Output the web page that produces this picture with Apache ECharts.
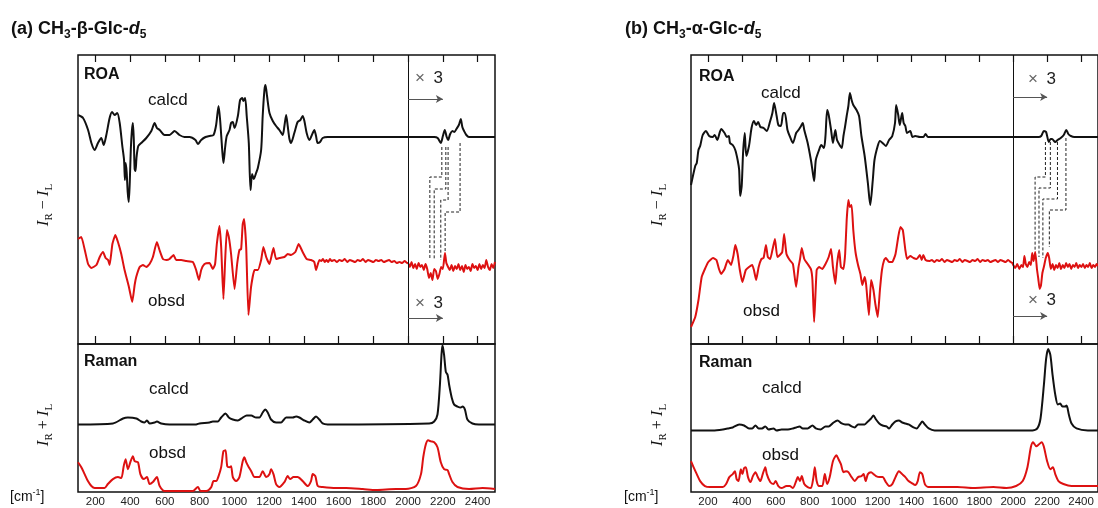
<!DOCTYPE html>
<html><head><meta charset="utf-8">
<script src="https://cdn.jsdelivr.net/npm/echarts@6/dist/echarts.min.js"></script>
<style>html,body{margin:0;padding:0;background:#fff}#c{width:1098px;height:508px}</style>
</head><body><div id="c"></div>
<script>
// ---------- axis data ----------
const xTicks = [200,400,600,800,1000,1200,1400,1600,1800,2000,2200,2400];
const xRange = [100, 2500];
const scaleBreak = 2000;           // right of this the ROA traces are shown x3
const roaRange = [0, 289];
const ramanRange = [0, 149];

// ---------- (a) CH3-beta-Glc-d5 ----------
const roaCalcdA = [[100,22],[129,19],[158,7],[177,-6],[196,-13],[215,-6],[234,-1],[248,-8],[263,2],[282,19],[296,25],[311,22],[326,24],[340,14],[355,-9],[365,-23],[370,-43],[374,-26],[380,-35],[386,-55],[392,-65],[398,-45],[404,-12],[410,6],[416,14],[421,-2],[426,-32],[431,-34],[437,-20],[447,-9],[464,-6],[493,-1],[522,6],[541,14],[554,9],[570,7],[598,2],[627,2],[656,6],[684,2],[713,0],[742,0],[776,-3],[790,-7],[809,-3],[834,0],[857,1],[880,2],[895,12],[909,31],[918,17],[930,-13],[937,-26],[947,-10],[956,1],[972,7],[981,14],[991,15],[1001,9],[1020,21],[1033,37],[1045,39],[1052,36],[1062,39],[1071,21],[1083,-6],[1093,-53],[1102,-37],[1112,-42],[1125,-36],[1135,-31],[1154,-13],[1163,21],[1173,47],[1179,52],[1188,41],[1202,24],[1221,16],[1240,11],[1259,7],[1278,2],[1288,11],[1298,22],[1307,11],[1317,-2],[1326,-6],[1345,4],[1364,15],[1380,17],[1393,21],[1403,16],[1416,4],[1432,-3],[1451,4],[1460,7],[1470,1],[1479,-6],[1493,-5],[1508,-1],[1537,0],[2150,0],[2170,-1],[2188,-6],[2200,1],[2211,7],[2222,0],[2230,-3],[2242,3],[2255,6],[2266,5],[2278,8],[2292,12],[2303,18],[2312,10],[2322,6],[2335,2],[2350,0],[2500,0]];
const roaObsdA = [[100,22],[119,24],[139,11],[158,-3],[177,-7],[206,-4],[225,4],[244,9],[259,3],[273,1],[282,-4],[298,17],[315,26],[330,19],[349,7],[368,-9],[393,-26],[412,-41],[426,-24],[435,-16],[455,-6],[474,-4],[493,-6],[512,-3],[531,4],[554,19],[569,11],[589,2],[608,1],[627,2],[650,6],[665,1],[694,1],[723,0],[761,-1],[780,-9],[796,-19],[809,-9],[828,-3],[857,-2],[876,-8],[889,-3],[899,17],[914,35],[924,14],[937,-38],[947,1],[957,31],[968,24],[981,7],[1001,-28],[1016,-3],[1029,11],[1039,12],[1048,37],[1056,42],[1068,14],[1081,-54],[1096,-26],[1116,-9],[1135,-9],[1154,1],[1167,14],[1183,4],[1202,-3],[1225,13],[1240,2],[1259,3],[1288,4],[1307,7],[1326,6],[1351,9],[1370,17],[1393,9],[1416,2],[1441,1],[1460,-1],[1470,-9],[1489,1],[1500,0],[1510,2],[1520,-1],[1530,1],[1540,-1],[1550,2],[1560,0],[1575,1],[1590,-1],[1605,1],[1620,0],[1635,2],[1650,-1],[1665,1],[1680,0],[1695,-1],[1710,1],[1725,0],[1740,2],[1755,-1],[1770,1],[1785,0],[1800,-1],[1815,1],[1830,0],[1845,1],[1860,-1],[1875,0],[1890,1],[1905,-1],[1920,0],[1935,-2],[1950,-1],[1965,-2],[1980,0],[1995,-2],[2000,-2],[2010,-6],[2020,-1],[2030,-7],[2040,-3],[2050,-8],[2060,-2],[2070,-6],[2080,-4],[2090,-9],[2100,-3],[2110,-8],[2120,-17],[2130,-12],[2140,-19],[2150,-8],[2160,-10],[2170,-18],[2180,-13],[2190,-6],[2200,-8],[2212,8],[2220,-2],[2230,-6],[2240,-9],[2250,-4],[2260,-10],[2270,-5],[2280,-8],[2290,-3],[2300,-9],[2310,-5],[2320,-11],[2330,-4],[2340,-8],[2350,-6],[2360,-10],[2370,-3],[2380,-7],[2390,-5],[2400,-9],[2410,-3],[2420,-8],[2430,-4],[2440,-7],[2450,1],[2460,-6],[2470,-9],[2480,-3],[2490,-7],[2500,-1]];
const ramanCalcdA = [[100,0],[301,1],[359,6],[387,7],[436,6],[464,3],[483,2],[497,4],[512,1],[541,2],[554,3],[579,1],[627,0],[723,0],[780,0],[799,1],[857,2],[876,3],[905,3],[924,7],[949,11],[968,7],[991,5],[1020,4],[1048,7],[1071,9],[1097,9],[1125,7],[1144,7],[1163,12],[1177,15],[1192,12],[1211,5],[1240,2],[1269,2],[1298,7],[1317,7],[1336,7],[1355,8],[1374,7],[1403,4],[1432,2],[1451,5],[1470,8],[1489,5],[1508,1],[1537,0],[2121,1],[2150,3],[2169,10],[2183,40],[2192,70],[2198,80],[2207,70],[2217,53],[2227,50],[2236,40],[2251,27],[2265,20],[2284,18],[2303,17],[2313,18],[2327,15],[2341,5],[2370,1],[2407,0],[2500,0]];
const ramanObsdA = [[100,30],[119,25],[138,18],[157,11],[177,6],[196,4],[225,4],[253,4],[272,8],[301,13],[330,15],[349,14],[363,26],[374,33],[387,23],[403,31],[416,36],[426,31],[445,30],[459,18],[478,13],[497,15],[512,8],[531,10],[554,15],[570,6],[598,1],[627,1],[684,1],[761,1],[790,5],[805,1],[838,1],[867,5],[880,11],[895,11],[909,16],[924,25],[937,41],[949,42],[959,26],[972,25],[981,26],[991,15],[1010,11],[1029,15],[1048,31],[1058,35],[1068,30],[1083,25],[1097,21],[1116,15],[1144,15],[1163,21],[1183,15],[1202,18],[1211,23],[1225,18],[1240,8],[1259,5],[1288,10],[1307,16],[1321,13],[1340,15],[1364,15],[1393,11],[1422,6],[1441,11],[1451,18],[1466,16],[1480,6],[1508,5],[1585,4],[1643,4],[1739,3],[1815,2],[1930,3],[1987,3],[2045,6],[2074,18],[2087,35],[2102,48],[2115,52],[2131,51],[2150,50],[2169,45],[2188,30],[2207,23],[2227,22],[2236,18],[2255,10],[2284,5],[2351,3],[2428,4],[2500,3]];
const connectorsA = [
  [[2194,197],[2194,167],[2125,167],[2125,84]],
  [[2217,197],[2217,155],[2150,155],[2150,84]],
  [[2230,197],[2230,144],[2188,144],[2188,84]],
  [[2299,201],[2299,132],[2213,132],[2213,92]]
];

// ---------- (b) CH3-alpha-Glc-d5 ----------
const roaCalcdB = [[100,-48],[125,-29],[134,-26],[144,-13],[154,-9],[169,2],[188,6],[207,1],[227,0],[240,2],[255,-3],[278,8],[298,4],[311,0],[323,1],[330,-6],[346,-8],[361,-13],[375,-23],[384,-33],[390,-59],[399,-49],[407,-16],[417,4],[426,-19],[442,-9],[457,9],[471,16],[484,12],[496,15],[509,10],[528,9],[547,6],[567,16],[580,24],[590,34],[605,21],[615,12],[630,11],[644,24],[653,24],[669,7],[682,1],[701,-6],[720,4],[734,7],[749,11],[759,14],[768,7],[788,-6],[807,-23],[816,-33],[826,-44],[836,-23],[855,-13],[868,-8],[884,-11],[893,1],[903,27],[912,22],[926,7],[937,-6],[951,7],[961,-3],[980,-9],[989,-11],[999,1],[1009,11],[1018,21],[1028,31],[1037,44],[1047,37],[1057,32],[1076,27],[1091,21],[1105,1],[1124,-19],[1143,-46],[1157,-68],[1172,-43],[1182,-23],[1201,-9],[1214,-4],[1230,-6],[1249,-9],[1268,-3],[1287,1],[1303,14],[1310,32],[1322,22],[1331,12],[1345,24],[1354,14],[1364,11],[1374,4],[1393,6],[1406,0],[1422,1],[1450,0],[1470,0],[1483,3],[1498,0],[2150,0],[2165,1],[2181,6],[2194,5],[2210,-5],[2220,-2],[2229,-2],[2248,-5],[2262,-3],[2280,-1],[2298,2],[2313,7],[2325,3],[2340,1],[2360,0],[2500,0]];
const roaObsdB = [[100,-66],[125,-56],[144,-39],[163,-16],[182,-8],[202,-1],[230,3],[250,1],[265,-8],[278,-13],[298,-8],[317,1],[336,-4],[350,5],[361,16],[375,7],[388,-9],[403,-21],[423,-9],[442,-6],[461,-4],[471,-9],[484,-19],[499,-6],[515,2],[528,3],[542,16],[553,4],[567,2],[580,11],[595,22],[609,4],[624,6],[638,9],[649,27],[663,7],[682,1],[701,-3],[720,-26],[734,-6],[743,2],[753,13],[768,2],[788,-3],[807,-8],[816,-19],[826,-61],[841,-9],[855,-6],[874,-8],[893,-3],[912,4],[926,12],[937,-6],[951,-23],[961,-3],[974,11],[984,-6],[999,-8],[1009,7],[1018,41],[1028,61],[1037,54],[1047,56],[1057,31],[1070,9],[1085,-4],[1099,-13],[1110,-24],[1124,-16],[1133,-24],[1149,-54],[1162,-19],[1176,-29],[1187,-43],[1201,-56],[1214,-29],[1226,-9],[1239,1],[1249,3],[1268,-1],[1287,-1],[1306,7],[1322,24],[1335,34],[1349,31],[1364,11],[1374,2],[1393,5],[1412,3],[1431,2],[1450,6],[1460,1],[1470,6],[1483,1],[1508,0],[1520,1],[1535,-1],[1550,1],[1565,0],[1580,2],[1595,-1],[1610,1],[1625,0],[1640,-1],[1655,1],[1670,0],[1685,2],[1700,-1],[1715,1],[1730,0],[1745,-1],[1760,1],[1775,0],[1790,2],[1805,-1],[1820,1],[1835,0],[1850,1],[1865,-1],[1880,0],[1895,1],[1910,-1],[1925,1],[1940,0],[1955,-1],[1970,1],[1985,-1],[1995,-2],[2000,-4],[2012,-7],[2024,-3],[2036,-8],[2048,-4],[2058,-6],[2066,5],[2074,-3],[2084,-6],[2094,-1],[2104,-4],[2112,8],[2120,0],[2130,9],[2140,-8],[2148,-18],[2156,-28],[2164,-24],[2172,-12],[2182,-5],[2192,3],[2204,8],[2212,3],[2222,-8],[2232,-3],[2242,-9],[2252,-4],[2262,-7],[2272,-2],[2282,-8],[2292,-4],[2302,-7],[2312,-2],[2322,-6],[2332,-3],[2342,-8],[2352,-4],[2362,-6],[2372,-2],[2382,-7],[2392,-4],[2402,-6],[2412,-3],[2422,-7],[2432,-4],[2442,-6],[2452,-2],[2462,-7],[2472,-4],[2482,-6],[2492,-3],[2500,-5]];
const ramanCalcdB = [[100,0],[230,0],[288,1],[317,2],[346,3],[384,6],[413,5],[442,2],[461,2],[480,5],[499,2],[519,2],[538,4],[557,1],[586,2],[605,0],[634,1],[672,1],[701,2],[720,3],[740,4],[759,2],[788,2],[816,5],[836,2],[864,1],[893,4],[912,4],[941,8],[964,10],[989,7],[1009,6],[1028,6],[1047,4],[1066,3],[1085,6],[1105,6],[1124,6],[1143,9],[1162,12],[1176,15],[1191,11],[1210,7],[1230,5],[1253,4],[1268,2],[1287,6],[1306,9],[1326,10],[1345,8],[1364,7],[1383,6],[1412,3],[1431,2],[1450,6],[1464,9],[1479,6],[1502,2],[1537,0],[2113,0],[2142,2],[2161,12],[2181,46],[2194,72],[2206,82],[2219,76],[2232,56],[2248,36],[2263,26],[2277,27],[2290,24],[2305,24],[2315,25],[2328,16],[2344,7],[2373,2],[2440,0],[2500,0]];
const ramanObsdB = [[100,31],[115,25],[134,18],[154,11],[182,6],[211,5],[250,5],[288,5],[307,8],[326,15],[346,18],[359,21],[369,13],[380,11],[394,23],[403,18],[413,24],[423,25],[436,15],[451,10],[465,16],[480,20],[494,15],[509,11],[523,18],[538,25],[547,18],[567,10],[586,8],[599,11],[615,6],[634,4],[663,6],[682,6],[701,4],[720,11],[730,15],[743,11],[753,16],[768,8],[788,5],[807,4],[822,15],[830,25],[841,11],[855,6],[874,6],[889,18],[903,8],[918,15],[937,31],[957,37],[970,33],[984,28],[999,20],[1014,21],[1028,20],[1047,15],[1066,11],[1085,15],[1105,16],[1118,18],[1130,11],[1143,18],[1162,20],[1176,18],[1191,16],[1210,15],[1230,15],[1249,10],[1268,6],[1287,8],[1306,15],[1326,21],[1345,18],[1364,15],[1383,11],[1402,9],[1422,7],[1437,11],[1450,20],[1464,18],[1479,8],[1498,5],[1575,5],[1671,5],[1767,4],[1883,5],[1960,4],[2017,6],[2056,11],[2084,25],[2104,45],[2117,50],[2136,46],[2152,48],[2167,50],[2180,46],[2200,31],[2219,23],[2234,25],[2248,18],[2267,11],[2296,8],[2344,6],[2440,6],[2500,6]];
const connectorsB = [
  [[2190,202],[2190,167],[2129,167],[2129,94]],
  [[2219,202],[2219,156],[2152,156],[2152,87]],
  [[2261,202],[2261,145],[2175,145],[2175,86]],
  [[2311,206],[2311,134],[2213,134],[2213,97]]
];

// ---------- layout (vertical stacking offsets of each trace) ----------
const OFF = { roaCalcd: 207, roaObsd: 83, ramanCalcdA: 68, ramanCalcdB: 62, ramanObsd: 0 };
const shift = (arr, off) => arr.map(p => [p[0], p[1] + off]);

const BLACK = '#111111', RED = '#dd1111';
const FONT = 'Liberation Sans, Arial, sans-serif';

const grids = [
  {left:78,  top:55,  width:417, height:289},
  {left:78,  top:344, width:417, height:149},
  {left:691, top:55,  width:416, height:289},
  {left:691, top:344, width:416, height:149}
].map(g => Object.assign(g, {show:true, borderColor:BLACK, borderWidth:1.5, backgroundColor:'transparent'}));

function xAx(gridIndex, position, tickLen, labels) {
  return {
    type:'value', gridIndex, position, min:xRange[0], max:xRange[1],
    axisLine:{show:false, onZero:false}, splitLine:{show:false},
    axisTick:{show: tickLen > 0, inside:true, length:tickLen, customValues:xTicks, lineStyle:{color:BLACK, width:1.2}},
    axisLabel:{show:labels, customValues:xTicks, formatter: v => String(v), fontFamily:FONT, fontSize:11.5, color:'#222', margin:4}
  };
}
const xAxis = [
  xAx(0,'top',7,false), xAx(0,'bottom',8,false), xAx(1,'bottom',0,true),
  xAx(2,'top',7,false), xAx(2,'bottom',8,false), xAx(3,'bottom',0,true)
];
const yAxis = [
  {type:'value', gridIndex:0, min:roaRange[0], max:roaRange[1], show:false},
  {type:'value', gridIndex:1, min:ramanRange[0], max:ramanRange[1], show:false},
  {type:'value', gridIndex:2, min:roaRange[0], max:roaRange[1], show:false},
  {type:'value', gridIndex:3, min:ramanRange[0], max:ramanRange[1], show:false}
];

function lineSeries(data, xi, yi, color, extra) {
  return Object.assign({
    type:'line', xAxisIndex:xi, yAxisIndex:yi, data, showSymbol:false, symbol:'none',
    smooth:0.25, lineStyle:{color, width:2}, silent:true, animation:false, z:3
  }, extra || {});
}
function breakLine() {
  return {silent:true, symbol:'none', label:{show:false}, lineStyle:{color:BLACK, width:1, type:'solid'},
          data:[{xAxis:scaleBreak}]};
}
function arrows(yTop, yBot) {
  return {silent:true, symbol:['none','arrow'], symbolSize:[6,7], label:{show:false},
          lineStyle:{color:'#555', width:1, type:'solid'},
          data:[[{coord:[scaleBreak,yTop]},{coord:[2200,yTop]}],[{coord:[scaleBreak,yBot]},{coord:[2200,yBot]}]]};
}
function connectorSeries(list, xi, yi) {
  return list.map(poly => ({
    type:'line', xAxisIndex:xi, yAxisIndex:yi, data:poly, showSymbol:false, symbol:'none', silent:true,
    lineStyle:{color:'#222', width:1, type:[3,2]}, animation:false, z:2
  }));
}

const series = [
  lineSeries(shift(roaCalcdA, OFF.roaCalcd), 1, 0, BLACK, {markLine: breakLine()}),
  lineSeries(shift(roaObsdA, OFF.roaObsd), 1, 0, RED, {smooth:0.15, markLine: arrows(245, 26)}),
  lineSeries(shift(ramanCalcdA, OFF.ramanCalcdA), 2, 1, BLACK),
  lineSeries(shift(ramanObsdA, OFF.ramanObsd), 2, 1, RED),
  lineSeries(shift(roaCalcdB, OFF.roaCalcd), 4, 2, BLACK, {markLine: breakLine()}),
  lineSeries(shift(roaObsdB, OFF.roaObsd), 4, 2, RED, {smooth:0.15, markLine: arrows(247, 28)}),
  lineSeries(shift(ramanCalcdB, OFF.ramanCalcdB), 5, 3, BLACK),
  lineSeries(shift(ramanObsdB, OFF.ramanObsd), 5, 3, RED),
  ...connectorSeries(connectorsA, 1, 0),
  ...connectorSeries(connectorsB, 4, 2)
];

// ---------- text ----------
function txt(x, y, text, font, extra) {
  return Object.assign({type:'text', x, y, silent:true, z:10,
    style:{text, font, fill:'#111', align:'left', verticalAlign:'middle'}}, extra || {});
}
const titleRich = {
  b:{fontFamily:FONT, fontWeight:'bold', fontSize:18, lineHeight:24, verticalAlign:'middle', fill:'#111'},
  bi:{fontFamily:FONT, fontWeight:'bold', fontStyle:'italic', fontSize:18, lineHeight:24, verticalAlign:'middle', fill:'#111'},
  sub:{fontFamily:FONT, fontWeight:'bold', fontSize:12, lineHeight:12, verticalAlign:'bottom', fill:'#111'}
};
function title(x, text) {
  return {type:'text', x, y:29, silent:true, style:{text, rich:titleRich, align:'left', verticalAlign:'middle'}};
}
const yRich = {
  i:{fontFamily:'Liberation Serif, Times New Roman, serif', fontStyle:'italic', fontSize:17, lineHeight:22, verticalAlign:'middle', fill:'#111'},
  o:{fontFamily:'Liberation Serif, Times New Roman, serif', fontSize:16, lineHeight:22, verticalAlign:'middle', fill:'#111'},
  s:{fontFamily:'Liberation Serif, Times New Roman, serif', fontSize:11, lineHeight:11, verticalAlign:'bottom', fill:'#111'}
};
function yTitle(x, y, op) {
  return {type:'text', x, y, rotation:Math.PI/2, silent:true,
    style:{text:'{i|I}{s|R}{o| ' + op + ' }{i|I}{s|L}', rich:yRich, align:'center', verticalAlign:'middle'}};
}
const cmRich = {
  n:{fontFamily:FONT, fontSize:14, lineHeight:18, verticalAlign:'middle', fill:'#111'},
  sup:{fontFamily:FONT, fontSize:9, lineHeight:9, verticalAlign:'top', fill:'#111'}
};
function cm(x) {
  return {type:'text', x, y:497, silent:true, style:{text:'{n|[cm}{sup|-1}{n|]}', rich:cmRich, align:'left', verticalAlign:'middle'}};
}
const xRich = {
  x:{fontFamily:FONT, fontSize:17, fill:'#666', lineHeight:20, verticalAlign:'middle'},
  n:{fontFamily:FONT, fontSize:17, fill:'#222', lineHeight:20, verticalAlign:'middle'}
};
function times3(x, y) {
  return {type:'text', x, y, silent:true, style:{text:'{x|\u00d7}{n|\u20023}', rich:xRich, align:'left', verticalAlign:'middle'}};
}
const bold16 = 'bold 16px ' + FONT, reg17 = '17px ' + FONT;
const graphic = [
  title(11, '{b|(a) CH}{sub|3}{b|-\u03b2-Glc-}{bi|d}{sub|5}'),
  title(625, '{b|(b) CH}{sub|3}{b|-\u03b1-Glc-}{bi|d}{sub|5}'),
  yTitle(44, 205, '\u2212'), yTitle(44, 425, '+'),
  yTitle(658, 205, '\u2212'), yTitle(658, 425, '+'),
  cm(10), cm(624),
  txt(84, 75, 'ROA', bold16), txt(148, 100, 'calcd', reg17), txt(148, 301, 'obsd', reg17),
  txt(84, 362, 'Raman', bold16), txt(149, 389, 'calcd', reg17), txt(149, 453, 'obsd', reg17),
  txt(699, 77, 'ROA', bold16), txt(761, 93, 'calcd', reg17), txt(743, 311, 'obsd', reg17),
  txt(699, 363, 'Raman', bold16), txt(762, 388, 'calcd', reg17), txt(762, 455, 'obsd', reg17),
  times3(415, 78), times3(415, 303), times3(1028, 79), times3(1028, 300)
];

const chart = echarts.init(document.getElementById('c'), null, {renderer:'canvas'});
chart.setOption({animation:false, backgroundColor:'#fff', grid:grids, xAxis, yAxis, series, graphic});
</script>
</body></html>
